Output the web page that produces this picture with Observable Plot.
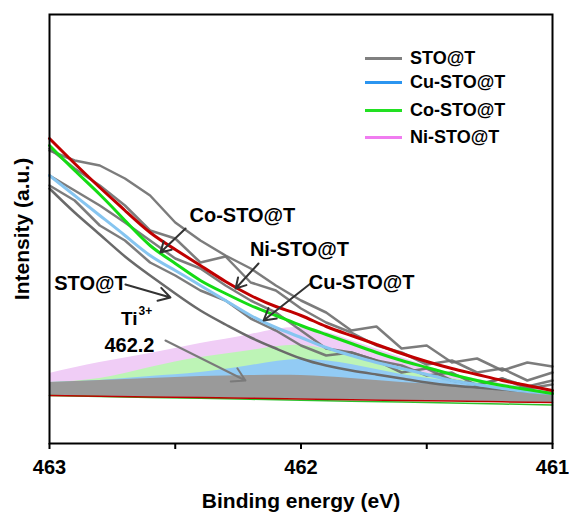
<!DOCTYPE html>
<html>
<head>
<meta charset="utf-8">
<script src="https://cdn.jsdelivr.net/npm/d3@7"></script>
<script src="https://cdn.jsdelivr.net/npm/@observablehq/plot@0.6"></script>
<style>
  body { margin: 0; background: #fff; font-family: "Liberation Sans", Arial, sans-serif; }
  #wrap { position: relative; width: 569px; height: 516px; }
  #legend { position: absolute; left: 0; top: 0; }
  .lg { position: absolute; display: flex; align-items: center; white-space: nowrap; font-weight: bold; font-size: 18px; color: #000; }
  .lg span.sw { display: inline-block; width: 37px; height: 3px; margin-right: 8px; }
</style>
</head>
<body>
<div id="wrap"><div id="legend"></div></div>
<script>
// Binding energy grid (eV) for raw spectra and fits, 0.1 eV steps
const energyFine = [463.0,462.9,462.8,462.7,462.6,462.5,462.4,462.3,462.2,462.1,462.0,461.9,461.8,461.7,461.6,461.5,461.4,461.3,461.2,461.1,461.0];
// Raw (jagged) spectra, intensity a.u.
const rawSTO = [258,243,218,203,181,168,153,143,125,113,98,88,91,83,78,68,71,58,65,55,59];
const rawCu  = [268,253,238,221,203,185,175,158,143,131,113,95,91,83,71,75,63,59,65,57,63];
const rawCo  = [295,275,258,238,213,205,181,187,161,153,135,121,111,98,91,79,83,71,75,63,71];
const rawNi  = [293,283,278,265,248,221,203,188,175,158,143,131,113,117,95,98,81,85,73,81,77];
// Fitted envelopes
const fitSTO = [255,231,209,187,168,150,133,119,106,95,85,78,73,69,65,61,58,56,54,52,50];
const fitCu  = [268,248,228,208,188,173,158,143,128,116,106,96,88,81,75,69,63,59,55,52,50];
const fitCo  = [298,273,249,223,198,180,163,150,138,128,118,109,100,91,83,76,69,63,58,54,50];
const fitNi  = [305,280,256,233,211,194,178,162,148,137,128,117,108,99,90,82,75,69,63,58,53];
// Ti3+ 462.2 component areas, 0.2 eV steps
const energyCoarse = [463.0,462.8,462.6,462.4,462.2,462.0,461.8,461.6,461.4,461.2,461.0];
const baseline   = [48,47.3,46.6,45.9,45.2,44.5,43.8,43.1,42.4,41.7,41];
const baseline2  = [48,47.1,46.1,45.2,44.2,43.3,42.3,41.4,40.4,39.5,38.5];
const peakSTO = [61,63,65,67,68,68,65,61,58,55,51];
const peakCu  = [61,63,67,71,78,84,79,69,62,56,51];
const peakCo  = [61,65,76,86,93,98,88,76,65,58,51];
const peakNi  = [70,81,90,100,109,116,103,86,70,60,53];
// Series names and colours
const seriesNames = ["STO@T","Cu-STO@T","Co-STO@T","Ni-STO@T"];
const legendColors = ["#808080","#2b95f0","#22e022","#f07cf0"];
// Annotations (energy, intensity)
const labelText = ["Co-STO@T","Ni-STO@T","Cu-STO@T","STO@T","462.2"];
const labelX    = [462.233,462.006,461.759,462.837,462.682];
const labelY    = [228,194,161,160,98];
const arrowX1 = [462.459,462.169,461.962,462.698];
const arrowY1 = [215,180,160,159];
const arrowX2 = [462.559,462.260,462.149,462.519];
const arrowY2 = [191,155,123,146];
const tiArrow = {x1:462.539, y1:103, x2:462.221, y2:63};
const xTicks = [463,462.5,462,461.5,461];

const fine = (arr) => energyFine.map((x,i)=>({x, y: arr[i]}));
const coarse = (arr) => energyCoarse.map((x,i)=>({x, y: arr[i], b: baseline[i]}));
const labels = labelText.map((t,i)=>({t, x: labelX[i], y: labelY[i]}));
const arrows = arrowX1.map((x1,i)=>({x1, y1: arrowY1[i], x2: arrowX2[i], y2: arrowY2[i]}));
const FONT = "Liberation Sans, Arial, sans-serif";

const chart = Plot.plot({
  width: 569, height: 516,
  marginLeft: 49, marginRight: 17, marginTop: 14, marginBottom: 73,
  style: {fontFamily: FONT, background: "#fff"},
  x: {domain: [463, 461], label: null},
  y: {domain: [0, 429], axis: null},
  marks: [
    Plot.areaY(coarse(peakNi), {x:"x", y1:"b", y2:"y", fill:"#f0cdf6", curve:"natural"}),
    Plot.areaY(coarse(peakCo), {x:"x", y1:"b", y2:"y", fill:"#bdf4b6", curve:"natural"}),
    Plot.areaY(coarse(peakCu), {x:"x", y1:"b", y2:"y", fill:"#92cbf4", curve:"natural"}),
    Plot.areaY(coarse(peakSTO), {x:"x", y1:"b", y2:"y", fill:"#9a9a9a", curve:"natural"}),
    Plot.line(energyCoarse.map((x,i)=>({x, y: baseline2[i]})), {x:"x", y:"y", stroke:"#2cc02c", strokeWidth:1.5}),
    Plot.line(energyCoarse.map((x,i)=>({x, y: baseline[i]})), {x:"x", y:"y", stroke:"#c00000", strokeWidth:1.5}),
    Plot.line(fine(rawNi), {x:"x", y:"y", stroke:"#6e6e6e", strokeWidth:2.5, strokeOpacity:0.9}),
    Plot.line(fine(rawCo), {x:"x", y:"y", stroke:"#6e6e6e", strokeWidth:2.5, strokeOpacity:0.9}),
    Plot.line(fine(rawCu), {x:"x", y:"y", stroke:"#6e6e6e", strokeWidth:2.5, strokeOpacity:0.9}),
    Plot.line(fine(rawSTO), {x:"x", y:"y", stroke:"#6e6e6e", strokeWidth:2.5, strokeOpacity:0.9}),
    Plot.line(fine(fitSTO), {x:"x", y:"y", stroke:"#6a6a6a", strokeWidth:2.5, curve:"natural"}),
    Plot.line(fine(fitCu), {x:"x", y:"y", stroke:"#86c5f0", strokeWidth:3, curve:"natural"}),
    Plot.line(fine(fitCo), {x:"x", y:"y", stroke:"#14dc14", strokeWidth:3, curve:"natural"}),
    Plot.line(fine(fitNi), {x:"x", y:"y", stroke:"#c00000", strokeWidth:3, curve:"natural"}),
    Plot.arrow(arrows, {x1:"x1", y1:"y1", x2:"x2", y2:"y2", stroke:"#333", strokeWidth:2, headLength:10}),
    Plot.arrow([tiArrow], {x1:"x1", y1:"y1", x2:"x2", y2:"y2", stroke:"#7a7a7a", strokeWidth:2, headLength:11}),
    Plot.text(labels, {x:"x", y:"y", text:"t", fontSize:20, fontWeight:"bold", fill:"#000", textAnchor:"middle"}),
    Plot.text(["Ti"], {x:[462.650], y:[125], text: d=>d, fontSize:19, fontWeight:"bold", fill:"#000", textAnchor:"end"}),
    Plot.text(["3+"], {x:[462.650], y:[125], text: d=>d, fontSize:12, fontWeight:"bold", fill:"#000", textAnchor:"start", dy:-7, dx:1}),
    Plot.frame({stroke:"#000", strokeWidth:2}),
    Plot.axisX({ticks: xTicks, tickSize: 6, tickPadding: 10, tickFormat: d => Number.isInteger(d) ? String(d) : "",
      fontSize: 20, fontWeight: "bold", strokeWidth: 2, label: null}),
    Plot.text(["Binding energy (eV)"], {frameAnchor:"bottom", dy: 64, text: d=>d, fontSize:21, fontWeight:"bold", fill:"#000"}),
    Plot.text(["Intensity (a.u.)"], {frameAnchor:"left", textAnchor:"middle", dx: -27, rotate:-90, text: d=>d, fontSize:21, fontWeight:"bold", fill:"#000"})
  ]
});
const wrap = document.getElementById("wrap");
wrap.insertBefore(chart, wrap.firstChild);

const rowTops = [47, 71, 99, 126];
const lg = document.getElementById("legend");
seriesNames.forEach((n,i)=>{
  const d = document.createElement("div");
  d.className = "lg";
  d.style.left = "365px";
  d.style.top = rowTops[i] + "px";
  d.style.height = "22px";
  d.innerHTML = `<span class="sw" style="background:${legendColors[i]}"></span>${n}`;
  lg.appendChild(d);
});
</script>
</body>
</html>
